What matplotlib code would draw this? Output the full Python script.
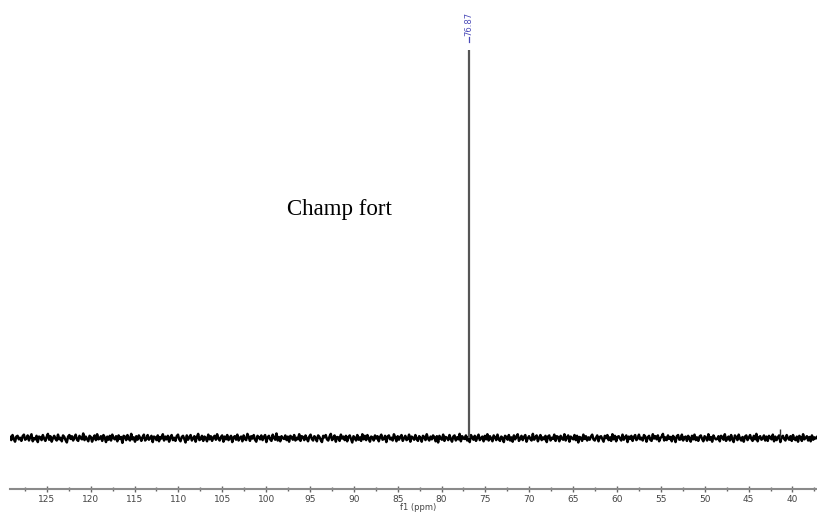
import numpy as np
import matplotlib.pyplot as plt

## spectrum range (ppm)
ppm_left = 129.2
ppm_right = 37.2

## main peak
peak_ppm = [76.87]
peak_height = [100.0]
peak_labels = ['76.87']

## tiny extra spike near the right end
spike_ppm = [41.4]
spike_height = [2.4]

## baseline noise (tenths of intensity units, left -> right)
noise_tenths = [
    3, -5, 8, -2, -9, 4, 6, -3, 1, -7, 5, 9, -4, -1, 7, -6, 2, 10, -8, 0,
    -3, 6, -10, 4, 2, -5, 8, -1, -7, 3, 11, -4, 5, -9, 0, 6, -2, -6, 9, -3,
    1, -8, 7, 3, -5, -11, 4, 8, -2, 5, -6, 2, 9, -4, -7, 6, 0, -3, 12, -5,
    4, -2, -8, 6, 3, -9, 1, 7, -5, 10, -3, -1, 5, -7, 8, 2, -10, 4, -4, 6,
    -6, 9, 0, -3, 5, -8, 7, -2, 3, -12, 6, 4, -5, 8, -1, -6, 11, -3, 2, -9,
    5, -4, 7, 1, -7, 3, 9, -6, -2, 8, -4, 0, 6, -10, 4, 2, -5, 7, -8, 3,
    -1, 10, -6, 4, -3, 6, -9, 2, 8, -5, 1, -7, 5, 9, -3, -8, 3, 6, -2, -11,
    7, -4, 2, 8, -6, 0, 5, -9, 3, 11, -5, -2, 6, -7, 4, 1, -8, 9, -3, 5,
    -7, 2, 6, -4, 10, -1, -6, 3, 7, -9, 4, -3, 8, -5, 0, 6, -10, 2, 5, -4,
    9, -6, 1, 4, -8, 7, -2, -5, 11, 3, -7, 5, -1, 8, -4, -9, 6, 2, -3, 7,
    -5, 3, 8, -10, 2, 6, -3, -7, 9, 1, -4, 12, -6, 3, -8, 5, 0, -2, 7, -5,
    4, -9, 6, 2, -4, 8, -6, 1, -3, 10, -7, 5, 3, -5, 7, -1, -8, 4, 9, -2,
    -6, 5, 1, -8, 7, 3, -4, -10, 6, 2, 8, -3, -6, 4, 11, -5, 0, 7, -9, 3,
    2, -7, 9, -1, 4, -5, 6, -8, 3, 7, -2, -11, 5, 1, -6, 8, -4, 2, -7, 10,
    -3, 6, -5, 8, 0, -9, 4, 2, -6, 7, -1, 5, -8, 3, 9, -4, -2, 6, -10, 4,
    7, -3, 1, -6, 10, 2, -8, 5, -4, 3, 8, -7, 0, 6, -5, -2, 9, -9, 4, 1,
    -4, 8, -2, -7, 5, 1, -9, 6, 3, -5, 10, -1, -6, 4, -3, 7, 2, -8, 5, -11,
    6, 0, -4, 9, -7, 3, 1, -5, 8, -2, -9, 4, 7, -6, 2, -3, 11, -8, 5, -1,
    -2, 7, -6, 3, -10, 8, 1, -4, 6, -7, 2, 9, -5, 0, 4, -8, 6, -3, 10, -6,
    5, -1, -8, 7, 2, -5, 9, -3, -7, 4, 1, -10, 6, 3, -4, 8, -6, 2, -9, 7,
    -3, 4, 10, -7, -1, 6, -5, 3, 8, -9, 0, 5, -2, -6, 11, -4, 2, 7, -8, 1,
    8, -5, 2, -3, 6, -10, 4, 7, -6, 1, -2, 9, -7, 5, 3, -8, 6, -1, -4, 10,
    -6, 2, 7, -9, 4, 0, -3, 8, -5, 6, -11, 3, 1, -7, 9, -2, 5, -6, 2, -4,
    4, 9, -3, -6, 1, 7, -8, 3, 5, -2, -9, 6, 0, 8, -5, 2, -7, 10, -3, 6,
    -8, 3, 5, -1, -6, 9, -4, 2, 7, -10, 4, -2, 6, -7, 3, 8, -5, -1, 9, -3,
    1, -6, 8, 4, -9, 2, 6, -4, -7, 10, -1, 5, -3, 7, -8, 0, 4, 11, -6, 2,
    -5, 7, -2, 3, -8, 6, 1, -10, 5, 8, -4, -3, 9, -6, 2, 4, -7, 6, -1, -9,
    6, -3, 9, -5, 2, -7, 4, 7, -2, -8, 5, 1, -6, 10, -4, 3, -9, 7, 0, -3,
    -2, 5, -8, 6, 3, -4, 10, -7, 1, 4, -6, 8, -3, -10, 7, 2, -5, 9, -1, -6,
    3, -9, 4, 7, -5, 1, 8, -2, -7, 6, -3, 11, -8, 2, 5, -4, -1, 7, -6, 4,
    -7, 6, 1, -3, 9, -8, 4, -5, 2, 7, -10, 3, 6, -2, -6, 8, 0, -4, 5, -7,
    8, -2, -5, 4, -9, 6, 2, -7, 10, -3, 1, 5, -6, 3, -8, 7, -4, 2, -1, 3,
]

major_ticks = [125, 120, 115, 110, 105, 100, 95, 90, 85, 80, 75, 70, 65, 60, 55, 50, 45, 40]

noise = np.array(noise_tenths) / 10.0
ppm = np.linspace(ppm_left, ppm_right, len(noise))

fig = plt.figure(figsize=(8.17, 5.13), dpi=100)
ax = fig.add_axes([10 / 817, 24 / 513, 807 / 817, 489 / 513])

# baseline trace
ax.plot(ppm, noise, color='black', lw=1.8)
# peaks as sticks
ax.vlines(peak_ppm, 0, peak_height, color='#555555', lw=1.6)
ax.vlines(spike_ppm, 0, spike_height, color='#333333', lw=1.0)

# peak label, blue and rotated like the software prints it
for p, h, lab in zip(peak_ppm, peak_height, peak_labels):
    ax.plot([p, p], [h + 2.2, h + 3.3], color='#4a4ab8', lw=0.9)
    ax.text(p, h + 3.6, lab, rotation=90, ha='center', va='bottom',
            fontsize=6, color='#4a4ab8')

ax.text(91.6, 59.0, 'Champ fort', family='Liberation Serif', fontsize=16.5,
        ha='center', va='center', color='black')

ax.set_xlim(ppm_left, ppm_right)
ax.set_ylim(-13.1, 112.9)

for s in ['left', 'right', 'top']:
    ax.spines[s].set_visible(False)
ax.spines['bottom'].set_color('#8a8a8a')
ax.spines['bottom'].set_linewidth(1.5)

ax.set_yticks([])
ax.set_xticks(major_ticks)
ax.set_xticks([t + 2.5 for t in major_ticks] + [major_ticks[-1] - 2.5], minor=True)
ax.tick_params(axis='x', which='major', direction='inout', length=5, width=1,
               color='#666666', labelsize=6.5, labelcolor='#444444', pad=2)
ax.tick_params(axis='x', which='minor', direction='inout', length=3, width=1,
               color='#666666')

fig.text(418 / 817, 0.5 / 513, 'f1 (ppm)', fontsize=6, color='#444444',
         ha='center', va='bottom')

fig.savefig('out.png', dpi=100)
